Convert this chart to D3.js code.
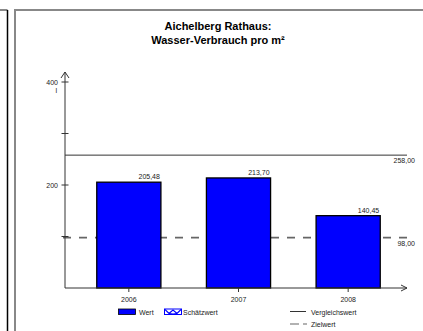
<!DOCTYPE html>
<html>
<head>
<meta charset="utf-8">
<script src="https://cdn.jsdelivr.net/npm/d3@7"></script>
<style>
  html, body { margin: 0; padding: 0; background: #fff; }
  svg { display: block; font-family: "Liberation Sans", Arial, sans-serif; }
</style>
</head>
<body>
<svg id="chart" width="423" height="331"></svg>
<script>
// Water consumption per m² (litres), Aichelberg town hall
const years = ["2006", "2007", "2008"];
const values = [205.48, 213.70, 140.45];
const comparisonValue = 258.00;   // Vergleichswert
const targetValue = 98.00;        // Zielwert
const yTicks = [0, 100, 200, 300, 400];
const yTickLabels = ["", "", "200", "", "400"];
const titleLines = ["Aichelberg Rathaus:", "Wasser-Verbrauch pro m²"];

const fmt = v => d3.format(".2f")(v).replace(".", ",");

const svg = d3.select("#chart");

// page frame
svg.append("line").attr("x1", 0).attr("x2", 7.5).attr("y1", 10).attr("y2", 10)
  .attr("stroke", "#888").attr("stroke-width", 2);
svg.append("line").attr("x1", 7.5).attr("x2", 7.5).attr("y1", 10).attr("y2", 331)
  .attr("stroke", "#000").attr("stroke-width", 1.5);
svg.append("line").attr("x1", 14).attr("x2", 423).attr("y1", 10).attr("y2", 10)
  .attr("stroke", "#888").attr("stroke-width", 2);
svg.append("line").attr("x1", 15).attr("x2", 15).attr("y1", 9).attr("y2", 331)
  .attr("stroke", "#888").attr("stroke-width", 2);

// title
svg.append("g").selectAll("text").data(titleLines).join("text")
  .attr("x", 218).attr("y", (d, i) => 30 + i * 14)
  .attr("text-anchor", "middle")
  .attr("font-size", 11).attr("font-weight", "bold").attr("fill", "#000")
  .text(d => d);

const x0 = 65, x1 = 407, yBase = 288;
const y = d3.scaleLinear().domain([0, 400]).range([yBase, 82]);
const x = d3.scaleBand().domain(years).range([74, 403])
  .paddingInner(0.415).paddingOuter(0.2075);

// target line (dashed), behind the bars
svg.append("line")
  .attr("x1", x0 - 2).attr("x2", x1)
  .attr("y1", y(targetValue)).attr("y2", y(targetValue))
  .attr("stroke", "#666").attr("stroke-width", 1.8)
  .attr("stroke-dasharray", "8,8");

// bars
svg.append("g").selectAll("rect").data(values).join("rect")
  .attr("x", (d, i) => x(years[i]))
  .attr("y", d => y(d))
  .attr("width", x.bandwidth())
  .attr("height", d => yBase - y(d))
  .attr("fill", "#0000ff")
  .attr("stroke", "#000").attr("stroke-width", 1.3);

// value labels
svg.append("g").selectAll("text").data(values).join("text")
  .attr("x", (d, i) => x(years[i]) + x.bandwidth() - 1)
  .attr("y", d => y(d) - 3)
  .attr("text-anchor", "end").attr("font-size", 7).attr("fill", "#222")
  .text(d => fmt(d));

// comparison line (solid)
svg.append("line")
  .attr("x1", x0).attr("x2", x1)
  .attr("y1", y(comparisonValue)).attr("y2", y(comparisonValue))
  .attr("stroke", "#333").attr("stroke-width", 1);
svg.append("text").attr("x", 415).attr("y", y(comparisonValue) + 8)
  .attr("text-anchor", "end").attr("font-size", 7).attr("fill", "#222")
  .text(fmt(comparisonValue));

svg.append("text").attr("x", 415).attr("y", y(targetValue) + 8)
  .attr("text-anchor", "end").attr("font-size", 7).attr("fill", "#222")
  .text(fmt(targetValue));

// y axis
const axisColor = "#333";
svg.append("line").attr("x1", x0).attr("x2", x0).attr("y1", yBase).attr("y2", 72)
  .attr("stroke", axisColor).attr("stroke-width", 1);
svg.append("path").attr("d", `M${x0 - 4},${78} L${x0},${72} L${x0 + 4},${78}`)
  .attr("fill", "none").attr("stroke", axisColor).attr("stroke-width", 1);
svg.append("g").selectAll("line").data(yTicks.slice(1)).join("line")
  .attr("x1", x0 - 3.5).attr("x2", x0 + 3.5)
  .attr("y1", d => y(d)).attr("y2", d => y(d))
  .attr("stroke", axisColor).attr("stroke-width", 1);
svg.append("g").selectAll("text").data(yTicks).join("text")
  .attr("x", x0 - 7).attr("y", d => y(d) + 2.5)
  .attr("text-anchor", "end").attr("font-size", 7).attr("fill", "#222")
  .text((d, i) => yTickLabels[i]);
svg.append("text").attr("x", 57).attr("y", 93)
  .attr("text-anchor", "end").attr("font-size", 7).attr("fill", "#222").text("l");

// x axis
svg.append("line").attr("x1", x0).attr("x2", x1).attr("y1", yBase).attr("y2", yBase)
  .attr("stroke", axisColor).attr("stroke-width", 1);
svg.append("path").attr("d", `M${x1 - 6},${yBase - 3} L${x1},${yBase} L${x1 - 6},${yBase + 3}`)
  .attr("fill", "none").attr("stroke", axisColor).attr("stroke-width", 1);
svg.append("g").selectAll("line").data(years).join("line")
  .attr("x1", d => x(d) + x.bandwidth() / 2).attr("x2", d => x(d) + x.bandwidth() / 2)
  .attr("y1", yBase).attr("y2", yBase + 4)
  .attr("stroke", axisColor).attr("stroke-width", 1);
svg.append("g").selectAll("text").data(years).join("text")
  .attr("x", d => x(d) + x.bandwidth() / 2).attr("y", 302)
  .attr("text-anchor", "middle").attr("font-size", 7).attr("fill", "#222")
  .text(d => d);

// legend
const lg = svg.append("g").attr("font-size", 7).attr("fill", "#222");
lg.append("rect").attr("x", 118.5).attr("y", 309).attr("width", 17).attr("height", 5.5)
  .attr("fill", "#0000ff").attr("stroke", "#000").attr("stroke-width", 0.8);
lg.append("text").attr("x", 139).attr("y", 314.5).text("Wert");
lg.append("rect").attr("x", 164.5).attr("y", 309).attr("width", 17).attr("height", 5.5)
  .attr("fill", "#fff").attr("stroke", "#0000ff").attr("stroke-width", 1);
lg.append("path").attr("d", "M165,309.5 L169,313.5 L173,310 L177,313.5 L181,309.5 M169,313.5 L173,314 L177,313.5")
  .attr("fill", "none").attr("stroke", "#0000ff").attr("stroke-width", 1.1);
lg.append("text").attr("x", 183).attr("y", 314.5).text("Schätzwert");
lg.append("line").attr("x1", 290).attr("x2", 306).attr("y1", 311.5).attr("y2", 311.5)
  .attr("stroke", "#333").attr("stroke-width", 1);
lg.append("text").attr("x", 311).attr("y", 314.5).text("Vergleichswert");
lg.append("line").attr("x1", 290).attr("x2", 307).attr("y1", 324).attr("y2", 324)
  .attr("stroke", "#666").attr("stroke-width", 1.2).attr("stroke-dasharray", "9,4");
lg.append("text").attr("x", 311).attr("y", 327).text("Zielwert");
</script>
</body>
</html>
